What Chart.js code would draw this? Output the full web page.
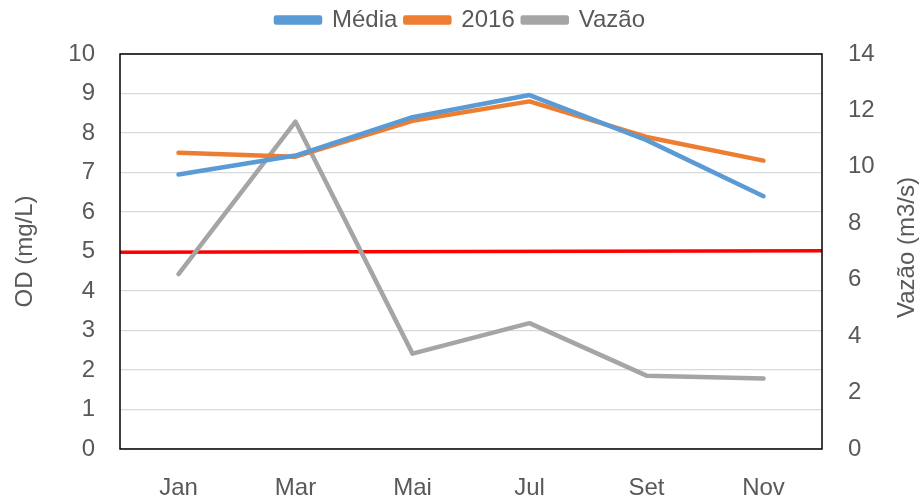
<!DOCTYPE html>
<html>
<head>
<meta charset="utf-8">
<script src="https://cdn.jsdelivr.net/npm/chart.js@4.4.0/dist/chart.umd.min.js"></script>
<style>
  html, body { margin: 0; padding: 0; background: #fff; }
  #wrap { width: 921px; height: 500px; }
</style>
</head>
<body>
<div id="wrap"><canvas id="odChart" width="921" height="500"></canvas></div>
<script>
// data
const months = ['Jan', 'Mar', 'Mai', 'Jul', 'Set', 'Nov'];
const media = [6.95, 7.43, 8.4, 8.96, 7.82, 6.4];
const od2016 = [7.5, 7.4, 8.31, 8.8, 7.9, 7.3];
const vazao = [6.2, 11.6, 3.38, 4.46, 2.6, 2.5];
const limitX = [0, 1];
const limitOD = [4.98, 5.02];

const txt = '#595959';
const fontFam = '"Liberation Sans", Arial, sans-serif';

// fixed box sizes to match the reference layout
const fixSize = (prop, v) => function (scale) { scale[prop] = v; };

const plotBorder = {
    id: 'plotBorder',
    afterDatasetsDraw(chart) {
        const { ctx, chartArea: a } = chart;
        ctx.save();
        ctx.strokeStyle = '#000';
        ctx.lineWidth = 1.5;
        ctx.strokeRect(a.left, a.top, a.right - a.left, a.bottom - a.top);
        ctx.restore();
    }
};

// right axis title reads bottom-to-top like the left one
const rightTitle = {
    id: 'rightTitle',
    afterDraw(chart) {
        const { ctx, chartArea: a } = chart;
        ctx.save();
        ctx.translate(907, (a.top + a.bottom) / 2 - 4);
        ctx.rotate(-Math.PI / 2);
        ctx.fillStyle = txt;
        ctx.font = '24px ' + fontFam;
        ctx.textAlign = 'center';
        ctx.textBaseline = 'middle';
        ctx.fillText('Vazão (m3/s)', 0, 0);
        ctx.restore();
    }
};

const legendHeight = {
    id: 'legendHeight',
    beforeInit(chart) {
        const origFit = chart.legend.fit;
        chart.legend.fit = function () {
            origFit.bind(chart.legend)();
            this.height = 54;
        };
    }
};

new Chart(document.getElementById('odChart'), {
    type: 'line',
    data: {
        labels: months,
        datasets: [{
            label: 'Média',
            data: media,
            borderColor: '#5B9BD5',
            backgroundColor: '#5B9BD5',
            yAxisID: 'y'
        }, {
            label: '2016',
            data: od2016,
            borderColor: '#ED7D31',
            backgroundColor: '#ED7D31',
            yAxisID: 'y'
        }, {
            label: 'Vazão',
            data: vazao,
            borderColor: '#A5A5A5',
            backgroundColor: '#A5A5A5',
            yAxisID: 'y1'
        }, {
            label: 'Limite',
            data: limitX.map((x, i) => ({ x: x, y: limitOD[i] })),
            borderColor: '#FF0000',
            backgroundColor: '#FF0000',
            borderWidth: 3.5,
            borderCapStyle: 'butt',
            xAxisID: 'xr',
            yAxisID: 'y'
        }]
    },
    options: {
        responsive: false,
        animation: false,
        layout: { padding: 0 },
        elements: {
            line: { borderWidth: 4.5, tension: 0, borderCapStyle: 'round', borderJoinStyle: 'round' },
            point: { radius: 0, hoverRadius: 0 }
        },
        plugins: {
            legend: {
                position: 'top',
                labels: {
                    filter: item => item.datasetIndex !== 3,
                    boxWidth: 44,
                    boxHeight: 5,
                    padding: 8,
                    color: txt,
                    font: { family: fontFam, size: 24 }
                }
            },
            tooltip: { enabled: false }
        },
        scales: {
            x: {
                type: 'category',
                offset: true,
                grid: { display: false, drawTicks: false },
                border: { display: false },
                ticks: { color: txt, padding: 25, font: { family: fontFam, size: 24 } },
                afterFit: fixSize('height', 51)
            },
            xr: {
                type: 'linear',
                min: 0,
                max: 1,
                display: false
            },
            y: {
                position: 'left',
                min: 0,
                max: 10,
                ticks: { stepSize: 1, color: txt, padding: 25, font: { family: fontFam, size: 24 } },
                grid: { color: '#D9D9D9', lineWidth: 1.3, drawTicks: false },
                border: { display: false },
                title: {
                    display: true,
                    text: 'OD (mg/L)',
                    color: txt,
                    font: { family: fontFam, size: 24, lineHeight: 1.2 },
                    padding: { top: 11, bottom: 0 }
                },
                afterFit: fixSize('width', 120)
            },
            y1: {
                position: 'right',
                min: 0,
                max: 14,
                ticks: { stepSize: 2, color: txt, padding: 26, font: { family: fontFam, size: 24 } },
                grid: { display: false, drawTicks: false },
                border: { display: false },
                afterFit: fixSize('width', 99)
            }
        }
    },
    plugins: [legendHeight, plotBorder, rightTitle]
});
</script>
</body>
</html>
